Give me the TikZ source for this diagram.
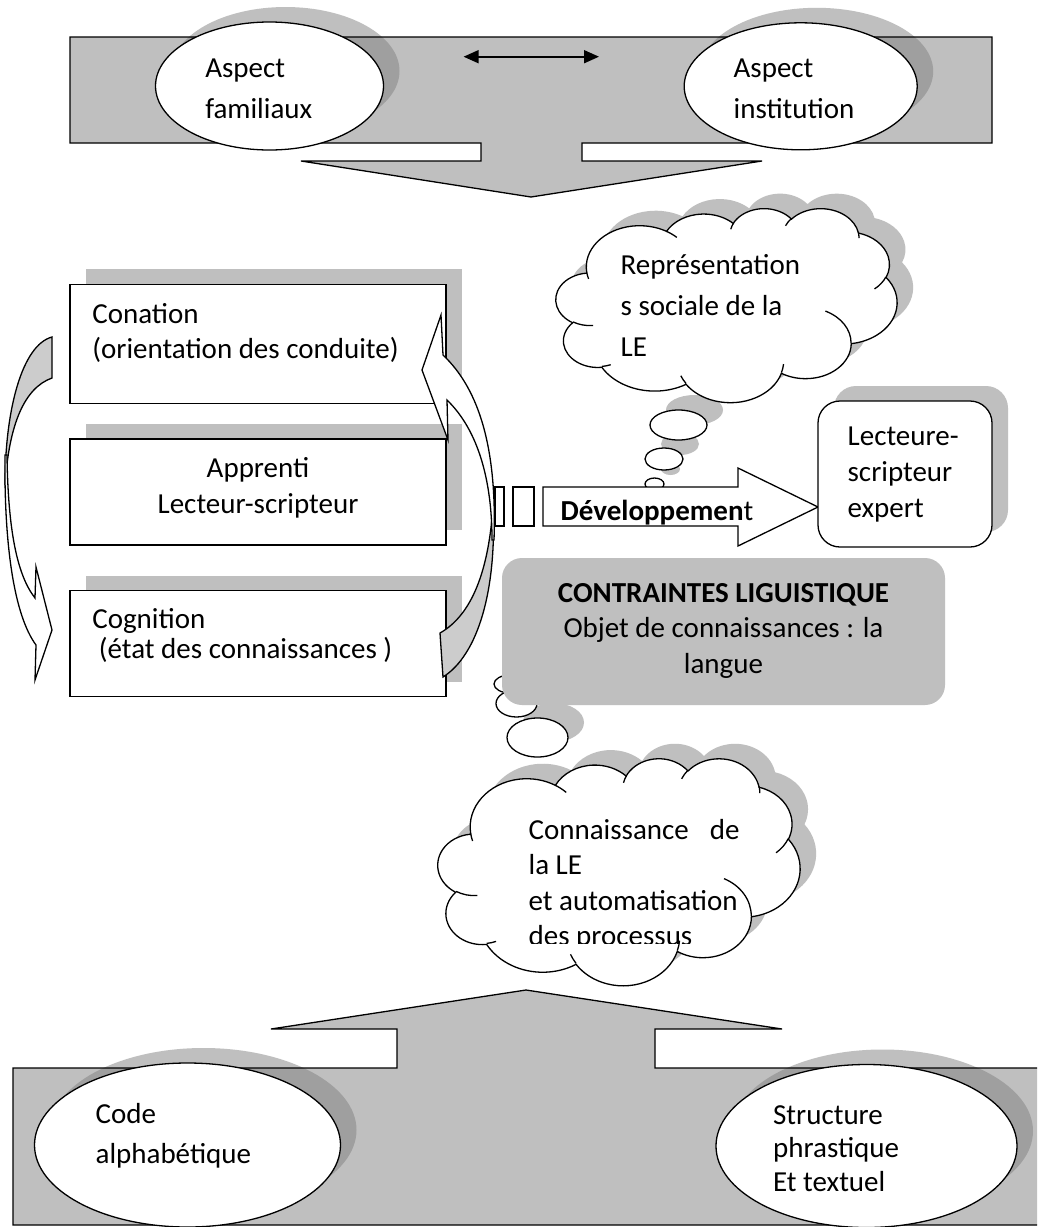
\documentclass[tikz,border=0pt]{standalone}
\usepackage{fontspec}
\setmainfont{Carlito}
\usetikzlibrary{shapes.geometric, arrows.meta}

\definecolor{panel}{gray}{0.75}
\definecolor{backface}{gray}{0.8}
\definecolor{shadowlight}{gray}{0.75}
\definecolor{shadowdark}{gray}{0.625}

% multi-line labels whose reference point is the first baseline
\newcommand\leftlines[2]{\vtop{\baselineskip=#1\relax\lineskiplimit=-100pt\halign{##\hfil\cr#2\crcr}}}
\newcommand\centerlines[2]{\vtop{\baselineskip=#1\relax\lineskiplimit=-100pt\halign{\hfil##\hfil\cr#2\crcr}}}

% elliptical arc given by radii, start angle and sweep measured as ray angles
\tikzset{
  carc/.code n args={4}{%
    \pgfmathsetmacro\cloudts{atan2((#1)*sin(#3),(#2)*cos(#3))}%
    \pgfmathsetmacro\cloudte{atan2((#1)*sin((#3)+(#4)),(#2)*cos((#3)+(#4)))}%
    \pgfmathsetmacro\cloudtd{mod(\cloudte-\cloudts+720,360)}%
    \edef\cloudins{\noexpand\pgfkeysalso{/tikz/insert path={arc[start angle=\cloudts,delta angle=\cloudtd,x radius=#1,y radius=#2]}}}%
    \cloudins}
}

% cloud outline in a 432 x 432 frame
\newcommand\cloudpath[1]{%
  \path[#1] (39,143.7)
    [carc={67.53}{91.90}{-190.4875}{123.7805}]
    [carc={53.33}{72.67}{-144.1024}{89.9452}]
    [carc={43.65}{59.45}{-145.8079}{99.7230}]
    [carc={48.57}{65.95}{-130.9861}{117.2417}]
    [carc={53.33}{72.73}{-78.7089}{109.0269}]
    [carc={67.75}{92.20}{-46.2673}{130.2690}]
    [carc={57.85}{78.67}{0.6250}{114.0333}]
    [carc={67.52}{92.15}{22.4516}{115.1726}]
    [carc={77.20}{105.43}{66.2426}{75.7110}]
    [carc={43.60}{59.18}{-274.9421}{146.7356}]
    [carc={43.45}{59.45}{-246.8285}{152.5189}]
    -- cycle;}
% the short creases inside the cloud
\newcommand\cloudcreases{%
  \draw (46.93,261.77) [carc={43.45}{59.45}{86.742}{26.4295}]
        (69.28,348.99) [carc={43.60}{59.18}{73.6105}{11.4475}]
        (164.78,390.90) [carc={67.52}{92.15}{137.6242}{14.0811}]
        (288.27,347.51) [carc={67.52}{92.15}{6.4533}{15.9984}]
        (341.29,229.54) [carc={57.85}{78.67}{-70.2924}{70.9174}]
        (417.98,153.54) [carc={53.33}{72.73}{30.318}{27.7515}]
        (383.24,54.26) [carc={48.57}{65.95}{-13.7443}{14.8589}]
        (290.78,39.52) [carc={48.57}{65.95}{-149.1815}{18.1954}]
        (221.41,47.20) [carc={43.65}{59.45}{-163.4943}{17.6864}]
        (140.00,51.92) [carc={67.53}{91.90}{-66.707}{12.3194}]
        (41.27,157.89) [carc={67.53}{91.90}{157.6544}{11.8582}];}
% a cloud with its cast shadow
\newcommand\cloudwithshadow{%
  \begin{scope}[xshift=16pt, yshift=15pt]\cloudpath{fill=shadowlight}\end{scope}
  \cloudpath{draw, fill=white}
  \cloudcreases}

% outlines of the two bands
\newcommand\topband{(70,37) -- (992,37) -- (992,143) -- (582,143) -- (582,161)
  -- (762,161) -- (531,197) -- (301,161) -- (481,161) -- (481,143) -- (70,143) -- cycle}
\newcommand\bottomband{(13,1225) -- (13,1068) -- (397,1068) -- (397,1029) -- (271,1029) -- (526,990)
  -- (782,1029) -- (655,1029) -- (655,1068) -- (1045,1068) -- (1045,1225) -- cycle}
% shadows of the ovals lying on the bands
\newcommand\topshadows{(285.5,71) ellipse [x radius=114, y radius=64]
  (816.7,71.3) ellipse [x radius=116.5, y radius=63.5]}
\newcommand\bottomshadows{(203.5,1130) ellipse [x radius=153, y radius=82]
  (882.5,1131) ellipse [x radius=150.5, y radius=81.5]}

\begin{document}
\begin{tikzpicture}[x=1pt, y=-1pt, line width=1.3pt, line join=miter,
  txt/.style={inner sep=0pt, anchor=base west, font=\fontsize{29pt}{36pt}\selectfont},
  ctxt/.style={txt, anchor=base},
  plate/.style={draw, fill=white, rectangle, inner sep=0pt},
  oval/.style={draw, fill=white, ellipse, inner sep=0pt}]

\useasboundingbox (0,0) rectangle (1037,1227);
\fill[white] (0,0) rectangle (1037,1227);
\clip (0,0) rectangle (1037,1227);

% ---------- upper band with its downward arrow ----------
\fill[panel] \topband;
\fill[shadowlight] \topshadows;
\begin{scope}
  \clip \topband;
  \fill[shadowdark] \topshadows;
\end{scope}
\draw \topband;
\node[oval, minimum width=228pt, minimum height=128pt] (famil) at (269.5,86) {};
\node[oval, minimum width=233pt, minimum height=127pt] (instit) at (800.7,86.3) {};
\node[txt] (familtxt) at (204.6,77) {\leftlines{41pt}{Aspect\cr familiaux}};
\node[txt] (instittxt) at (733,77) {\leftlines{41pt}{Aspect\cr institution}};
\coordinate (linkL) at (463.6,56.7);
\coordinate (linkR) at (599,56.7);
\draw[line width=1.6pt, {Triangle[length=15pt,width=13pt]}-{Triangle[length=15pt,width=13pt]}] (linkL) -- (linkR);

% ---------- the three stacked boxes ----------
\fill[shadowlight] (86,269.3) rectangle (462,388.3);
\fill[shadowlight] (86,424) rectangle (462,530);
\fill[shadowlight] (86,575.7) rectangle (462,681.7);
\node[plate, minimum width=376pt, minimum height=119pt] (conation) at (258,343.8) {};
\node[plate, minimum width=376pt, minimum height=106pt] (apprenti) at (258,492) {};
\node[plate, minimum width=376pt, minimum height=106pt] (cognition) at (258,643.7) {};
\node[txt] (conationtxt) at (91.7,323.3) {\leftlines{35pt}{Conation\cr (orientation des conduite)}};
\node[ctxt] (apprentitxt) at (258,477.3) {\centerlines{36pt}{Apprenti\cr Lecteur-scripteur}};
\node[txt] (cognitiontxt) at (91.7,628.3) {\leftlines{30pt}{Cognition\cr\ (état des connaissances )}};

% ---------- curved arrow on the left (downwards) ----------
\draw[fill=backface] (52,337) .. controls (22,345) and (5,410) .. (5,485)
  .. controls (9,425) and (24,388) .. (52,378) -- cycle;
\draw[fill=white] (5,455) .. controls (4,545) and (14,615) .. (36,645) -- (35,680)
  -- (52,630) -- (36,567) -- (35,598) .. controls (17,575) and (8,530) .. (7,455) -- cycle;

% ---------- curved arrow on the right (upwards) ----------
\draw[fill=backface] (493,505) .. controls (497,590) and (478,655) .. (443,677) -- (440,633)
  .. controls (472,615) and (489,570) .. (493,505) -- cycle;
\draw[fill=white] (494,540) .. controls (497,450) and (480,390) .. (443,355) -- (441,315)
  -- (422,370) -- (448,440) -- (447,400) .. controls (478,430) and (492,480) .. (492,540) -- cycle;

% ---------- thought cloud: social representations ----------
\fill[shadowlight] (694.5,410) ellipse [x radius=28.5, y radius=15];
\fill[shadowlight] (680,444) ellipse [x radius=19, y radius=11];
\fill[shadowlight] (670.5,469) ellipse [x radius=9.5, y radius=6];
\node[oval, minimum width=57pt, minimum height=30pt] (repA) at (678.5,425) {};
\node[oval, minimum width=38pt, minimum height=22pt] (repB) at (664,459) {};
\node[oval, minimum width=19pt, minimum height=12pt] (repC) at (654.5,484) {};
\begin{scope}[shift={(556,208)}, x=0.78935pt, y=-0.44907pt]
  \cloudwithshadow
\end{scope}
\node[txt] (reptxt) at (620,274.3) {\leftlines{41pt}{Représentation\cr s sociale de la\cr LE}};

% ---------- development arrow ----------
\draw[fill=white] (495,487) rectangle (504,526);
\draw[fill=white] (513,487) rectangle (534,526);
\draw[fill=white] (543,487) -- (738,487) -- (738,468) -- (818,507) -- (738,546) -- (738,526) -- (543,526) -- cycle;
\begin{scope}
  \clip (540,470) rectangle (770,526);
  \node[txt] (devtxt) at (560,520) {\textbf{Développemen}t};
\end{scope}

% ---------- expert reader-writer ----------
\fill[shadowlight, rounded corners=22pt] (834,386) rectangle (1008,532);
\node[plate, rounded corners=22pt, minimum width=174pt, minimum height=146pt] (expert) at (905,474) {};
\node[txt] (experttxt) at (847,445) {\leftlines{36pt}{Lecteure-\cr scripteur\cr expert}};

% ---------- thought cloud: knowledge of the language ----------
\begin{scope}[shift={(438,758)}, x=0.83796pt, y=-0.52546pt]
  \cloudwithshadow
\end{scope}
\fill[shadowlight] (553.5,722.5) ellipse [x radius=30.5, y radius=19.5];
\fill[shadowlight] (532.5,688.5) ellipse [x radius=20.5, y radius=13.5];
\fill[shadowlight] (526,669) ellipse [x radius=16, y radius=9];
\node[oval, minimum width=61pt, minimum height=39pt] (knowC) at (537.5,737.5) {};
\node[oval, minimum width=41pt, minimum height=27pt] (knowB) at (516.5,703.5) {};
\node[oval, minimum width=32pt, minimum height=18pt] (knowA) at (510,684) {};
\begin{scope}
  \clip (500,790) rectangle (800,943);
  \node[txt] (knowtxt) at (528,839) {\leftlines{35.5pt}{\hbox to 211pt{Connaissance\hfil de}\cr la LE\cr et automatisation\cr des processus}};
\end{scope}

% ---------- linguistic constraints ----------
\node[fill=panel, rounded corners=20pt, minimum width=443pt, minimum height=147pt, inner sep=0pt] (constraints) at (723.5,631.5) {};
\node[ctxt] (constrtxt) at (723.5,602) {\centerlines{35.5pt}{\textbf{CONTRAINTES LIGUISTIQUE}\cr Objet de connaissances : la\cr langue}};

% ---------- lower band with its upward arrow ----------
\fill[panel] \bottomband;
\fill[shadowlight] \bottomshadows;
\begin{scope}
  \clip \bottomband;
  \fill[shadowdark] \bottomshadows;
\end{scope}
\draw \bottomband;
\node[oval, minimum width=306pt, minimum height=164pt] (code) at (187.5,1145) {};
\node[oval, minimum width=301pt, minimum height=163pt] (structure) at (866.5,1146) {};
\node[txt] (codetxt) at (95,1123) {\leftlines{40pt}{Code\cr alphabétique}};
\node[txt] (structtxt) at (772.5,1124) {\leftlines{33.5pt}{Structure\cr phrastique\cr Et textuel}};

\end{tikzpicture}
\end{document}
